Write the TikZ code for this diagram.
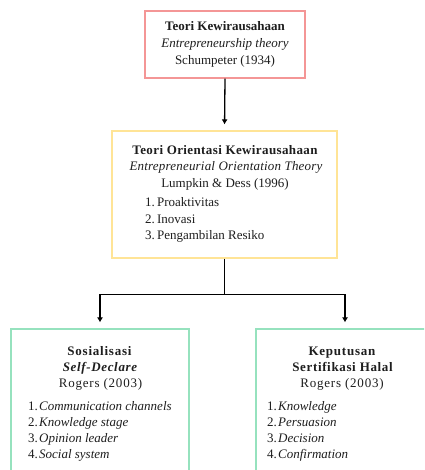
\documentclass[tikz,border=0pt]{standalone}
\usepackage{fontspec}
\setmainfont{Liberation Serif}
\usetikzlibrary{arrows.meta}
\definecolor{redline}{RGB}{244,150,150}
\definecolor{yelline}{RGB}{255,228,150}
\definecolor{grnline}{RGB}{150,226,190}
\definecolor{txt}{RGB}{30,30,30}
\tikzset{
  boxbase/.style={draw, line width=1.1pt, rectangle, inner sep=0pt},
  txtline/.style={inner sep=0pt, anchor=base, text=txt, font=\fontsize{13}{16}\selectfont},
  listline/.style={txtline, anchor=base west},
  arr/.style={line width=1.3pt, -{Latex[length=5pt,width=6pt]}, shorten >=6pt},
  conn/.style={line width=1.3pt}
}
\begin{document}
\begin{tikzpicture}[x=1pt,y=-1pt]
\useasboundingbox (0,0) rectangle (424,470);
\clip (0,0) rectangle (424,470);
\fill[white] (0,0) rectangle (424,470);
% boxes
\node[boxbase, draw=redline, minimum width=160pt, minimum height=67pt] (top) at (225,44.5) {};
\node[boxbase, draw=yelline, minimum width=225pt, minimum height=127pt] (mid) at (224.5,194.5) {};
\node[boxbase, draw=grnline, minimum width=178pt, minimum height=180pt] (bl) at (100,419) {};
\node[boxbase, draw=grnline, minimum width=178pt, minimum height=180pt] (br) at (345,419) {};
% top text
\node[txtline, font=\fontsize{13}{16}\selectfont\bfseries] (t1) at (225,31) {Teori Kewirausahaan};
\node[txtline, font=\fontsize{13}{16}\selectfont\itshape] (t2) at (225,48) {Entrepreneurship theory};
\node[txtline] (t3) at (225,65) {Schumpeter (1934)};
% middle text
\node[txtline, font=\fontsize{13}{16}\selectfont\bfseries\addfontfeatures{LetterSpace=3}] (m1) at (225,155) {Teori Orientasi Kewirausahaan};
\node[txtline, font=\fontsize{13}{16}\selectfont\itshape\addfontfeatures{LetterSpace=1.5}] (m2) at (226,171) {Entrepreneurial Orientation Theory};
\node[txtline] (m3) at (225,187) {Lumpkin \& Dess (1996)};
\node[listline] (m4) at (145,206.5) {1.\,Proaktivitas};
\node[listline] (m5) at (145,223) {2.\,Inovasi};
\node[listline] (m6) at (145,239.5) {3.\,Pengambilan Resiko};
% bottom left text
\node[txtline, font=\fontsize{13}{16}\selectfont\bfseries\addfontfeatures{LetterSpace=6}] (l1) at (99.5,355) {Sosialisasi};
\node[txtline, font=\fontsize{13}{16}\selectfont\bfseries\itshape\addfontfeatures{LetterSpace=5}] (l2) at (100,371) {Self-Declare};
\node[txtline, font=\fontsize{13}{16}\selectfont\addfontfeatures{LetterSpace=6}] (l3) at (100.5,387) {Rogers (2003)};
\node[listline] (l4) at (28,410) {1.\kern1.2pt\textit{Communication channels}};
\node[listline] (l5) at (28,426) {2.\kern1.2pt\textit{Knowledge stage}};
\node[listline] (l6) at (28,442) {3.\kern1.2pt\textit{Opinion leader}};
\node[listline] (l7) at (28,458) {4.\kern1.2pt\textit{Social system}};
% bottom right text
\node[txtline, font=\fontsize{13}{16}\selectfont\bfseries\addfontfeatures{LetterSpace=6}] (r1) at (342,355) {Keputusan};
\node[txtline, font=\fontsize{13}{16}\selectfont\bfseries\addfontfeatures{LetterSpace=5}] (r2) at (342.5,371) {Sertifikasi Halal};
\node[txtline, font=\fontsize{13}{16}\selectfont\addfontfeatures{LetterSpace=6}] (r3) at (342,387) {Rogers (2003)};
\node[listline] (r4) at (267,410) {1.\kern1.2pt\textit{Knowledge}};
\node[listline] (r5) at (267,426) {2.\kern1.2pt\textit{Persuasion}};
\node[listline] (r6) at (267,442) {3.\kern1.2pt\textit{Decision}};
\node[listline] (r7) at (267,458) {4.\kern1.2pt\textit{Confirmation}};
% connectors
\draw[arr] (top.south) -- (mid.north);
\draw[conn] (mid.south) -- ++(0,36) coordinate (j);
\draw[arr] (j) -| (bl.north);
\draw[arr] (j) -| (br.north);
\end{tikzpicture}
\end{document}
